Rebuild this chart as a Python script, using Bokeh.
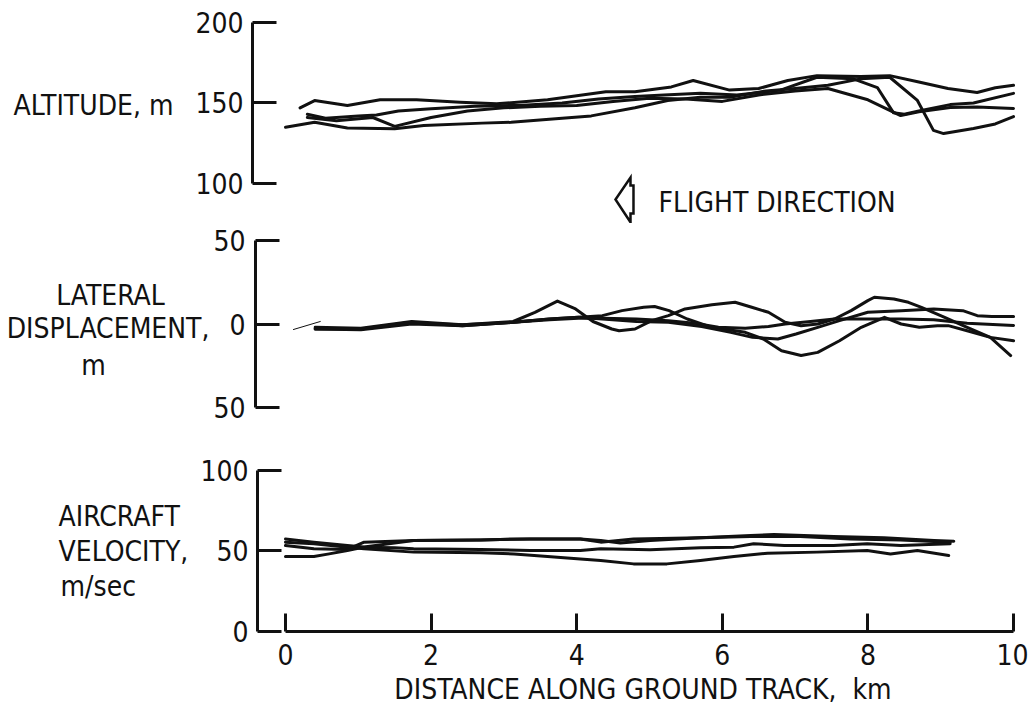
from bokeh.plotting import figure
from bokeh.layouts import column, row
from bokeh.models import Range1d, FixedTicker, Label
from bokeh.embed import file_html
from bokeh.resources import INLINE

FONT = "DejaVu Sans Condensed"
INK = "#111111"
FS = "28px"

# ---------------- data ----------------
X_TICKS = [0, 2, 4, 6, 8, 10]
ALT_TICKS = [100, 150, 200]
LAT_TICKS = [-50, 0, 50]
LAT_TICK_LABELS = {-50: "50", 0: "0", 50: "50"}
VEL_TICKS = [0, 50, 100]

# Altitude, m
ALT_X1 = [0.2, 0.4, 0.85, 1.3, 1.8, 2.4, 2.9, 3.6, 4.0, 4.4, 4.8, 5.3, 5.6, 6.1, 6.5, 6.9, 7.3, 7.9, 8.3, 8.7, 9.1, 9.5, 9.75, 10.0]
ALT_Y1 = [147, 151.5, 148.5, 152, 152, 150.5, 149.5, 152, 154.5, 157, 157, 160, 164, 158, 159, 164, 167, 166.5, 167, 163, 159, 156.5, 159.5, 161]
ALT_X2 = [0.3, 0.55, 1.0, 1.25, 1.55, 2.0, 2.6, 3.2, 3.8, 4.3, 4.8, 5.2, 5.7, 6.2, 6.8, 7.3, 7.8, 8.13, 8.35, 8.5, 8.7, 9.13, 9.45, 10.0]
ALT_Y2 = [143, 140.5, 142, 142.5, 145, 146.5, 148, 148.5, 150, 152.5, 154, 155, 156, 155, 158, 166, 165, 159.6, 144, 143, 145, 149, 150, 156]
ALT_X3 = [0.0, 0.4, 0.85, 1.5, 1.9, 2.7, 3.1, 3.8, 4.2, 4.8, 5.25, 5.7, 6.1, 6.6, 7.0, 7.45, 7.9, 8.3, 8.68, 8.9, 9.04, 9.45, 9.75, 10.0]
ALT_Y3 = [135, 138, 134.5, 134, 136, 137.5, 138, 140.5, 142, 147, 151.5, 153.5, 153.5, 157.5, 159, 161, 165, 166, 151.6, 133, 131, 134.2, 137, 141.6]
ALT_X4 = [0.3, 0.7, 1.2, 1.5, 2.0, 2.5, 3.0, 3.5, 4.0, 4.5, 5.0, 5.5, 6.0, 6.5, 7.0, 7.45, 8.0, 8.45, 8.7, 9.13, 9.5, 10.0]
ALT_Y4 = [141, 139, 141, 135.5, 141, 145, 147, 148, 148.5, 151, 153, 152.5, 151, 155, 157.5, 159, 152, 142.2, 144.5, 147.2, 147.5, 146.6]

# Lateral displacement, m
LAT_X1 = [0.37, 1.0, 1.7, 2.4, 3.1, 3.4, 3.71, 3.96, 4.2, 4.46, 4.56, 4.78, 5.01, 5.24, 5.47, 5.84, 6.16, 6.39, 6.62, 6.85, 7.07, 7.3, 7.53, 7.76, 7.99, 8.08, 8.35, 8.55, 8.73, 9.05, 9.36, 9.68, 9.96]
LAT_Y1 = [-2.5, -3, 0.5, -0.5, 1.5, 7, 13.7, 9, 1.5, -3, -4, -3, 2, 5, 9, 11.5, 13, 10, 7, 1, -1, 0, 3, 8, 14, 16, 15, 13, 10, 4, -2, -8, -18.9]
LAT_X2 = [0.37, 1.0, 1.7, 2.4, 3.1, 3.6, 4.0, 4.33, 4.6, 4.9, 5.05, 5.25, 5.5, 5.84, 6.3, 6.55, 6.8, 7.07, 7.3, 7.6, 7.9, 8.22, 8.45, 8.7, 8.95, 9.1, 9.36, 9.68, 10.0]
LAT_Y2 = [-3, -3.5, 0, -1, 1, 3, 4, 5, 8, 10, 10.5, 8, 3, -2, -5, -9, -16, -18.9, -17, -10, -2, 4, 0, -2, -1, -1, -4, -8, -10]
LAT_X3 = [0.37, 1.0, 1.7, 2.4, 3.1, 3.6, 4.0, 4.33, 4.8, 5.24, 5.6, 5.93, 6.3, 6.62, 6.85, 7.2, 7.53, 8.0, 8.45, 8.9, 9.36, 10.0]
LAT_Y3 = [-2, -2.5, 1.5, -0.5, 1, 2.5, 3.5, 3.5, 3, 2, 0.5, -2, -2.5, -1.5, 0, 1.5, 3, 3, 3, 2.5, 0.5, -0.9]
LAT_X4 = [0.37, 1.0, 1.7, 2.4, 3.1, 3.6, 4.0, 4.33, 4.8, 5.24, 5.7, 6.1, 6.4, 6.75, 7.0, 7.3, 7.6, 7.99, 8.45, 8.9, 9.3, 9.5, 9.7, 10.0]
LAT_Y4 = [-3, -3, 1, -1, 1, 3, 4, 3, 1.5, 1, -1.5, -5, -8, -9, -6, -2, 2, 7, 8, 9, 8, 5, 4.5, 4.5]
LAT_THIN_X = [0.07, 0.44]
LAT_THIN_Y = [-3.3, 1.5]

# Aircraft velocity, m/sec
VEL_X1 = [0, 0.39, 0.85, 1.08, 1.76, 2.68, 3.36, 4.05, 4.33, 4.6, 5.01, 5.7, 6.39, 6.71, 7.53, 8.22, 8.91, 9.18]
VEL_Y1 = [57.5, 55.5, 53.4, 52.5, 56.5, 56.9, 57.5, 57.5, 56.5, 54.9, 56.5, 58.2, 59.6, 60.3, 59.0, 58.2, 56.5, 56.1]
VEL_X2 = [0, 0.39, 0.85, 1.08, 1.76, 2.68, 3.36, 4.05, 4.33, 4.78, 5.7, 6.39, 7.07, 7.76, 8.45, 9.13]
VEL_Y2 = [53.4, 51.4, 51.0, 55.5, 56.5, 56.9, 57.5, 57.5, 55.5, 57.5, 58.2, 59.0, 59.0, 57.5, 56.9, 55.5]
VEL_X3 = [0, 0.39, 0.6, 0.85, 1.08, 1.5, 1.76, 2.68, 3.36, 4.05, 4.33, 5.01, 5.7, 6.16, 6.43, 6.85, 7.53, 7.99, 8.45, 9.13]
VEL_Y3 = [46.6, 46.6, 48.2, 50.3, 52.4, 52.0, 51.4, 51.0, 50.3, 50.3, 51.4, 50.7, 52.0, 52.4, 54.5, 53.4, 53.4, 54.5, 53.4, 54.5]
VEL_X4 = [0, 0.39, 0.85, 1.08, 1.76, 2.68, 3.14, 3.6, 4.05, 4.33, 4.78, 5.24, 5.7, 6.16, 6.62, 7.3, 7.99, 8.31, 8.68, 9.11]
VEL_Y4 = [55.5, 54.5, 52.4, 51.4, 49.3, 48.9, 48.2, 46.6, 45.1, 44.1, 42.0, 42.0, 44.1, 46.6, 48.6, 49.3, 50.3, 48.2, 50.3, 47.2]

# flight-direction arrow outline (km, altitude-panel units)
ARROW_X = [4.533, 4.739, 4.739, 4.780, 4.780, 4.739, 4.739]
ARROW_Y = [90.1, 103.7, 98.8, 98.8, 81.4, 81.4, 75.9]

# ---------------- layout (pixels) ----------------
W = 1028
X_END = 10.206
H1, H2, H3 = 223, 217, 274
WL1, WL2, WL3 = 190, 210, 195
B3 = 83  # bottom border of the velocity panel (x axis)


def style_y(p, ticks, bounds, standoff, overrides=None):
    ax = p.yaxis[0]
    ax.ticker = FixedTicker(ticks=ticks, minor_ticks=[])
    ax.bounds = bounds
    ax.axis_line_width = 3
    ax.axis_line_color = INK
    ax.major_tick_in = 24
    ax.major_tick_out = 0
    ax.major_tick_line_width = 3
    ax.major_tick_line_color = INK
    ax.minor_tick_line_color = None
    ax.major_label_text_font = FONT
    ax.major_label_text_font_size = FS
    ax.major_label_text_color = INK
    ax.major_label_standoff = standoff
    if overrides:
        ax.major_label_overrides = overrides


def make_fig(width, height, x_start, y_start, y_end, left, bottom, xaxis):
    p = figure(width=width, height=height,
               x_range=Range1d(x_start, X_END), y_range=Range1d(y_start, y_end),
               output_backend="svg", toolbar_location=None,
               x_axis_location="below" if xaxis else None,
               min_border_left=left, min_border_right=0,
               min_border_top=0, min_border_bottom=bottom)
    p.outline_line_color = None
    for g in p.grid:
        g.grid_line_color = None
    p.border_fill_color = "white"
    return p


def label_fig(width, height, bottom=0):
    # plain text panel; coordinates are pixels from its top-left corner
    p = figure(width=width, height=height,
               x_range=Range1d(0, width), y_range=Range1d(height - bottom, 0),
               output_backend="svg", toolbar_location=None,
               x_axis_location=None, y_axis_location=None,
               min_border_left=0, min_border_right=0, min_border_top=0, min_border_bottom=bottom)
    p.outline_line_color = None
    for g in p.grid:
        g.grid_line_color = None
    return p


def lbl(p, x, y, text, align):
    p.add_layout(Label(x=x, y=y, text=text, text_font=FONT, text_font_size=FS,
                       text_color=INK, text_align=align, text_baseline="middle"))


def trace(p, xs, ys, w=3):
    p.line(xs, ys, line_width=w, line_color=INK, line_join="round", line_cap="round")


# ---- altitude panel ----
l1 = label_fig(WL1, H1)
lbl(l1, 173, 105, "ALTITUDE, m", "right")
p1 = make_fig(W - WL1, H1, -0.4533, 75.16, 213.66, 252 - WL1, 0, False)
style_y(p1, ALT_TICKS, (100, 200), 9)
for xs, ys in [(ALT_X1, ALT_Y1), (ALT_X2, ALT_Y2), (ALT_X3, ALT_Y3), (ALT_X4, ALT_Y4)]:
    trace(p1, xs, ys)
lbl(p1, 5.124, 87.9, "FLIGHT DIRECTION", "left")
p1.patch(ARROW_X, ARROW_Y, fill_color="white", line_color=INK, line_width=2.5, line_join="miter")

# ---- lateral displacement panel ----
l2 = label_fig(WL2, H2)
lbl(l2, 110, 72, "LATERAL", "center")
lbl(l2, 209, 105, "DISPLACEMENT,", "right")
lbl(l2, 93, 142, "m", "center")
p2 = make_fig(W - WL2, H2, -0.4533, -69.76, 60.18, 252 - WL2, 0, False)
style_y(p2, LAT_TICKS, (-50, 50), 10, LAT_TICK_LABELS)
for xs, ys in [(LAT_X1, LAT_Y1), (LAT_X2, LAT_Y2), (LAT_X3, LAT_Y3), (LAT_X4, LAT_Y4)]:
    trace(p2, xs, ys)
trace(p2, LAT_THIN_X, LAT_THIN_Y, 1)

# ---- aircraft velocity panel ----
l3 = label_fig(WL3, H3, B3)
lbl(l3, 58, 76, "AIRCRAFT", "left")
lbl(l3, 58, 111, "VELOCITY,", "left")
lbl(l3, 60, 145.5, "m/sec", "left")
p3 = make_fig(W - WL3, H3, -0.3846, 0, 118.63, 257 - WL3, B3, True)
style_y(p3, VEL_TICKS, (0, 100), 9)
xa = p3.xaxis[0]
xa.ticker = FixedTicker(ticks=X_TICKS, minor_ticks=[])
xa.bounds = (0, 10)
xa.axis_line_width = 3
xa.axis_line_color = INK
xa.major_tick_in = 18
xa.major_tick_out = 0
xa.major_tick_line_width = 3
xa.major_tick_line_color = INK
xa.minor_tick_line_color = None
xa.major_label_text_font = FONT
xa.major_label_text_font_size = FS
xa.major_label_text_color = INK
xa.major_label_standoff = 12
xa.axis_label = "DISTANCE ALONG GROUND TRACK,\u00a0\u00a0km"
xa.axis_label_text_font = FONT
xa.axis_label_text_font_size = FS
xa.axis_label_text_font_style = "normal"
xa.axis_label_text_color = INK
xa.axis_label_standoff = 5
for xs, ys in [(VEL_X1, VEL_Y1), (VEL_X2, VEL_Y2), (VEL_X3, VEL_Y3), (VEL_X4, VEL_Y4)]:
    trace(p3, xs, ys)

layout = column(row(l1, p1, spacing=0), row(l2, p2, spacing=0), row(l3, p3, spacing=0), spacing=0)
open("out.html", "w").write(file_html(layout, INLINE))
